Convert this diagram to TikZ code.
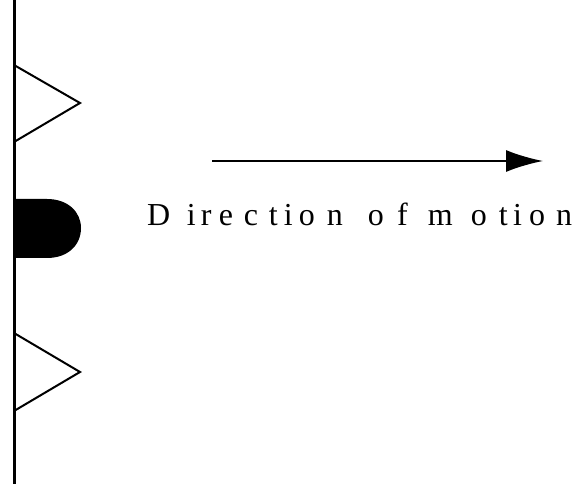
\documentclass[tikz,border=0pt]{standalone}
\usepackage{fontspec}
\setmainfont{Liberation Serif}
\usetikzlibrary{arrows.meta}
\newcommand{\gl}[2]{\rlap{\hspace{#1pt}#2}}
\begin{document}
\begin{tikzpicture}[x=1pt,y=-1pt,line join=miter,
  wall/.style={line width=3.1pt},
  tooth/.style={line width=2pt},
  lab/.style={anchor=base west,font=\fontsize{32}{32}\selectfont,inner sep=0pt,outer sep=0pt}]
\useasboundingbox (0,0) rectangle (574,484);
\coordinate (wt) at (14.3,0);
\coordinate (wb) at (14.3,484);
\draw[wall] (wt) -- (wb);
\draw[tooth] (14,65) -- (80,103) -- (14,142);
\draw[tooth] (14,333) -- (80,372) -- (14,411);
\fill (14,199) -- (47,199) .. controls (68,199) and (81,212) .. (81,228) .. controls (81,245) and (68,258) .. (47,258) -- (14,258) -- cycle;
\coordinate (as) at (212,161);
\coordinate (ae) at (543,161);
\draw[line width=2pt,-{Latex[length=37pt,width=22pt]}] (as) -- (ae);
\node[lab] (t) at (147,226) {\gl{0}{D}\gl{40}{i}\gl{54}{r}\gl{72}{e}\gl{97}{c}\gl{122}{t}\gl{137}{i}\gl{152}{o}\gl{180}{n}\gl{221}{o}\gl{250}{f}\gl{281}{m}\gl{324}{o}\gl{352}{t}\gl{366}{i}\gl{382}{o}\gl{409}{n}\phantom{x}};
\end{tikzpicture}
\end{document}
